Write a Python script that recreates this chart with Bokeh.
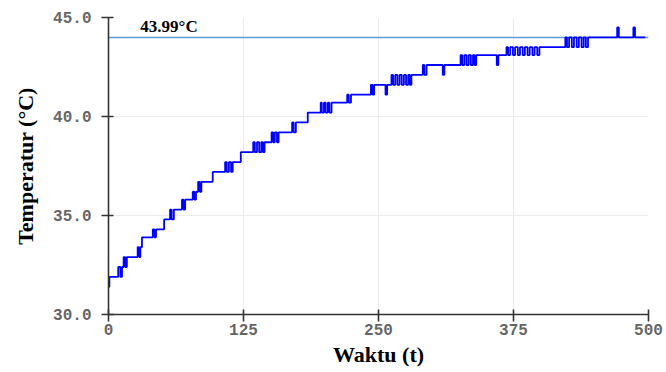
from bokeh.plotting import figure
from bokeh.models import Label, FixedTicker, Range1d, PrintfTickFormatter
from bokeh.embed import file_html
from bokeh.resources import INLINE

# change points of the logged temperature (step trace): time in s, temperature in degC
time_s = [0, 0.8, 9, 11, 12.5, 14, 15.5, 17,
          27, 28.5, 29.5, 31,
          41, 42.5, 44,
          51.5,
          57, 58.5, 60.5,
          68, 69.5, 71,
          78, 79.5, 81, 83, 84.5, 86,
          96.5,
          108, 109.5, 111.5, 113.5, 115,
          122.5,
          134, 135.5, 137.5, 139.5, 141.5, 143, 144.5,
          151, 152.5, 154, 156, 157.5,
          170, 171.5, 173.5,
          184.5,
          196.5, 197.5, 199.5, 201, 203, 204.5, 206.5,
          221, 222.5, 224.5,
          243, 244.5, 246,
          256.5, 258,
          262, 263.5, 265.5, 267.5, 269.5, 271.5, 273.5, 275.5, 277.5, 279, 280.5,
          291, 292.5, 294.5,
          309.5, 311,
          326, 327.5, 329.5, 331.5, 333.5, 335.5, 337.5, 339, 340.5,
          359.5, 361,
          368.5, 370, 372, 374.5, 376.5, 379, 381, 383.5, 385.5, 388, 390, 392.5, 394.5,
          397, 399,
          423, 424.5, 426.5, 429, 431, 433.5, 435.5, 438, 440, 442, 444,
          471, 472.5, 486, 487.5, 497]
temp_c = [31.4, 31.9, 32.4, 31.9, 32.4, 32.9, 32.4, 32.9,
          33.4, 32.9, 33.4, 33.9,
          34.3, 33.9, 34.3,
          34.8,
          35.3, 34.8, 35.3,
          35.8, 35.3, 35.8,
          36.2, 35.8, 36.2, 36.7, 36.2, 36.7,
          37.2,
          37.7, 37.2, 37.7, 37.2, 37.7,
          38.2,
          38.7, 38.2, 38.7, 38.2, 38.7, 38.2, 38.7,
          39.2, 38.7, 39.2, 38.7, 39.2,
          39.7, 39.2, 39.7,
          40.2,
          40.7, 40.2, 40.7, 40.2, 40.7, 40.2, 40.7,
          41.1, 40.7, 41.1,
          41.6, 41.1, 41.6,
          41.1, 41.6,
          42.1, 41.6, 42.1, 41.6, 42.1, 41.6, 42.1, 41.6, 42.1, 41.6, 42.1,
          42.6, 42.1, 42.6,
          42.1, 42.6,
          43.1, 42.6, 43.1, 42.6, 43.1, 42.6, 43.1, 42.6, 43.1,
          42.6, 43.1,
          43.5, 43.1, 43.5, 43.1, 43.5, 43.1, 43.5, 43.1, 43.5, 43.1, 43.5, 43.1, 43.5,
          43.1, 43.5,
          44.0, 43.5, 44.0, 43.5, 44.0, 43.5, 44.0, 43.5, 44.0, 43.5, 44.0,
          44.5, 44.0, 44.5, 44.0, 44.0]

x_ticks = [0, 125, 250, 375, 500]
y_ticks = [30, 35, 40, 45]
ref_temp = 43.99
ref_label = "43.99°C"
x_title = "Waktu (t)"
y_title = "Temperatur (°C)"

p = figure(width=666, height=372, output_backend="svg", toolbar_location=None,
           x_range=Range1d(0, 500), y_range=Range1d(30, 45),
           min_border_left=108, min_border_right=18, min_border_top=17, min_border_bottom=58)
p.outline_line_color = None
p.background_fill_color = "white"

p.hspan(y=[ref_temp], line_color="#5b9bd5", line_width=1.5)
p.step(time_s, temp_c, mode="after", line_color="#0000ff", line_width=1.8)

p.add_layout(Label(x=29.5, y=44.55, text=ref_label, text_font="Liberation Serif",
                   text_font_style="bold", text_font_size="17px", text_color="black",
                   text_baseline="middle"))

for ax in (p.xaxis[0], p.yaxis[0]):
    ax.axis_line_color = "#333333"
    ax.axis_line_width = 1.6
    ax.major_tick_line_color = "#333333"
    ax.major_tick_line_width = 1.6
    ax.major_tick_out = 7
    ax.major_tick_in = 5
    ax.minor_tick_line_color = None
    ax.major_label_text_font = "Liberation Mono"
    ax.major_label_text_font_style = "bold"
    ax.major_label_text_font_size = "16px"
    ax.major_label_text_color = "#666666"
    ax.axis_label_text_font = "Liberation Serif"
    ax.axis_label_text_font_style = "bold"
    ax.axis_label_text_font_size = "22px"
    ax.axis_label_text_color = "black"

p.xaxis.ticker = FixedTicker(ticks=x_ticks)
p.xaxis.axis_label = x_title
p.xaxis.major_label_standoff = 2
p.xaxis.axis_label_standoff = 4

p.yaxis.ticker = FixedTicker(ticks=y_ticks)
p.yaxis.formatter = PrintfTickFormatter(format="%.1f")
p.yaxis.axis_label = y_title
p.yaxis.major_label_standoff = 10
p.yaxis.axis_label_standoff = 12

p.xgrid.ticker = FixedTicker(ticks=x_ticks)
p.ygrid.ticker = FixedTicker(ticks=y_ticks)
p.xgrid.grid_line_color = "#ebebeb"
p.ygrid.grid_line_color = "#ebebeb"

open("out.html", "w").write(file_html(p, INLINE))
